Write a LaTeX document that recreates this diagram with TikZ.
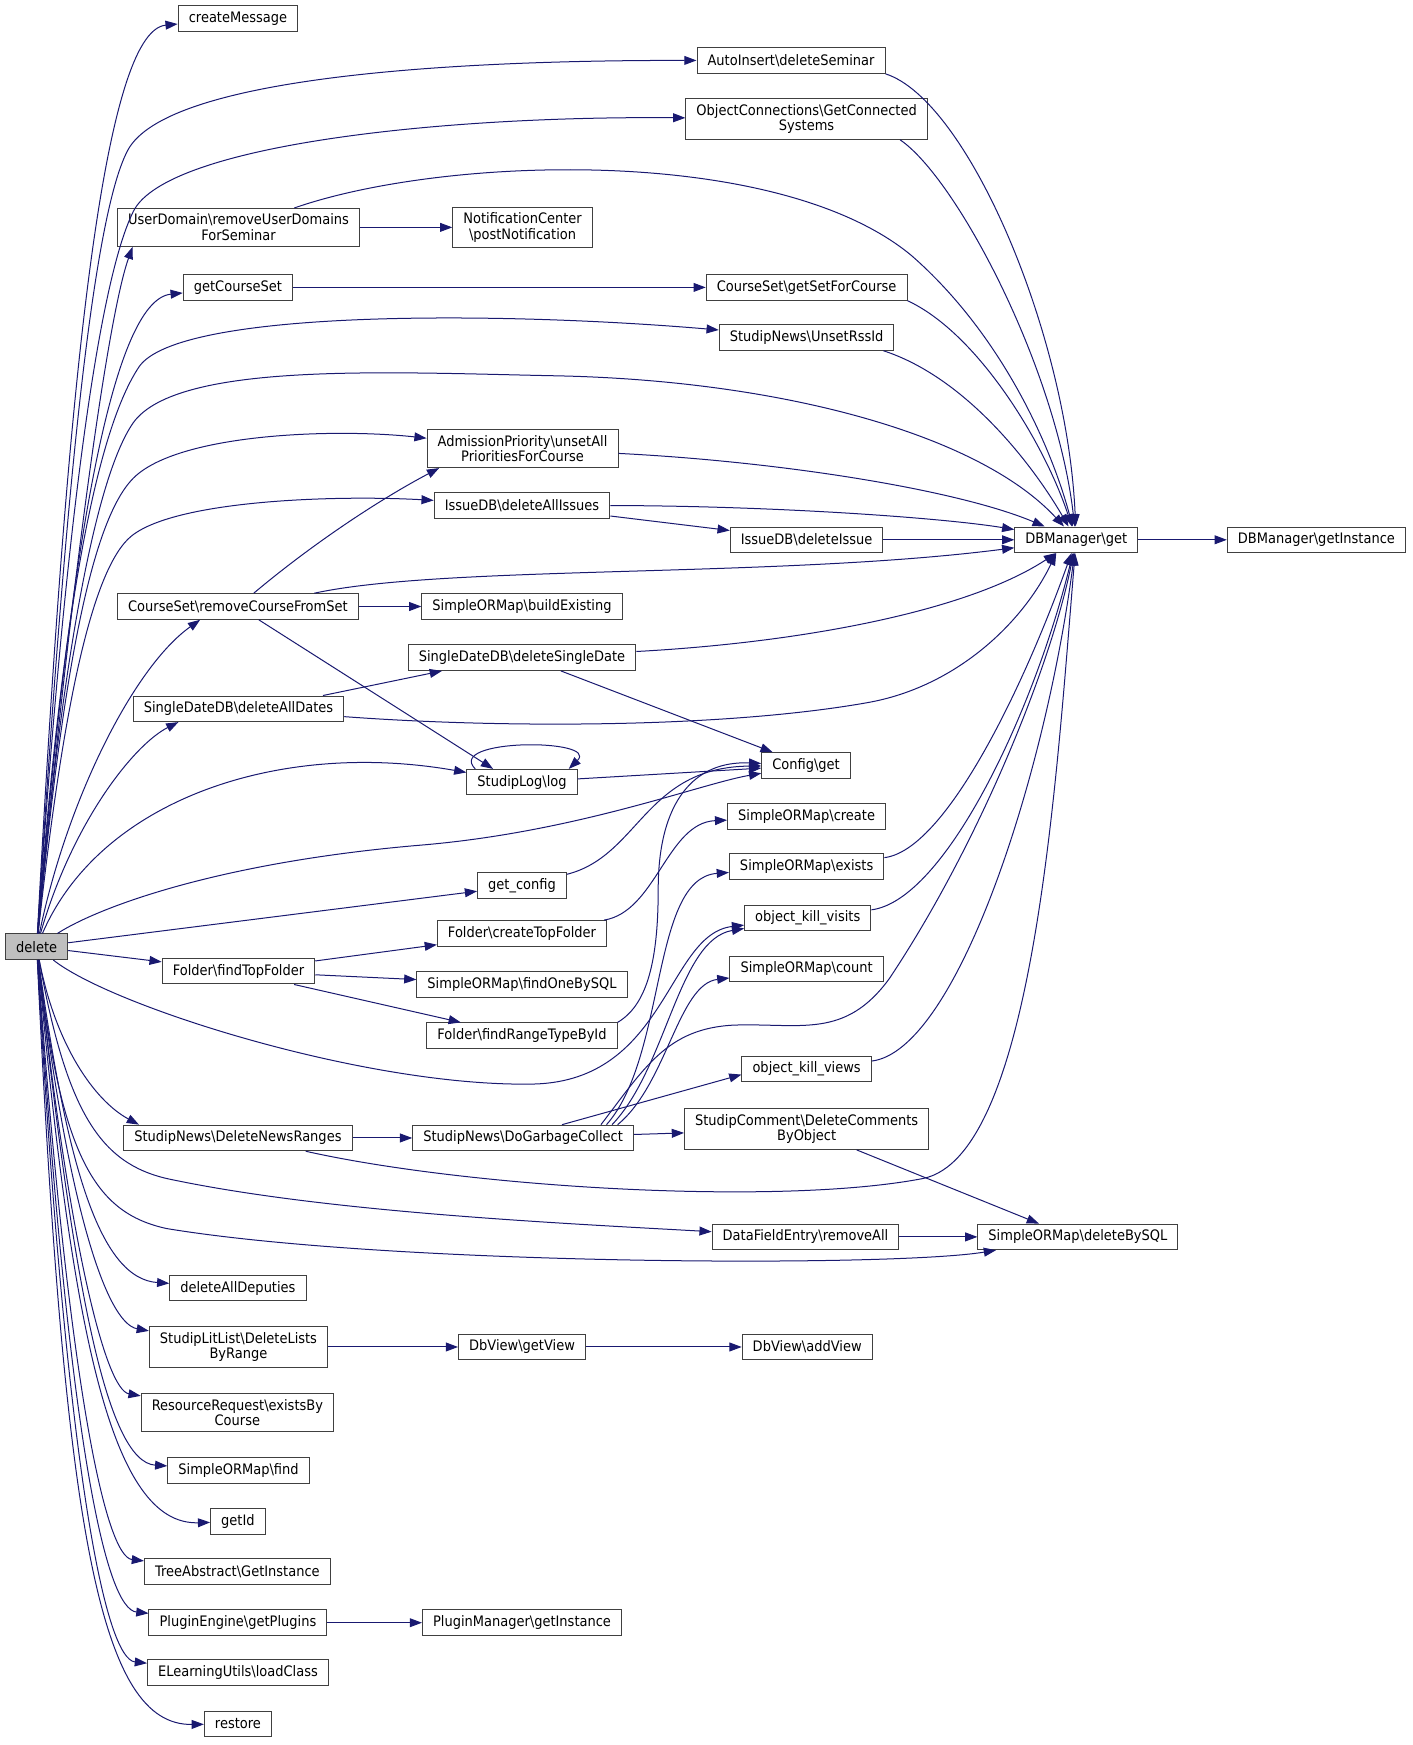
\documentclass[tikz,border=0pt]{standalone}
\usepackage{fontspec}
\newfontfamily\dxfont{DejaVu Sans}[FakeStretch=0.9]
\usetikzlibrary{arrows.meta}
\definecolor{edgeblue}{RGB}{25,25,112}
\definecolor{boxline}{RGB}{64,64,64}
\definecolor{rootfill}{RGB}{191,191,191}
\newcommand{\bsl}{\textbackslash}
\tikzset{fn/.style={rectangle, draw=boxline, line width=0.9pt, fill=white,
    inner xsep=9.5pt, inner ysep=5pt, minimum height=23pt, align=center,
    font=\dxfont\fontsize{13}{14}\selectfont},
  root/.style={fn, fill=rootfill},
  call/.style={draw=edgeblue, line width=0.9pt, -{Triangle[length=11pt,width=8pt]}}}

\begin{document}
\begin{tikzpicture}[x=1pt,y=-1pt]
  \useasboundingbox (0,0) rectangle (1270,1569.5);
  \node[root] (del) at (33,851.5) {delete};
  \foreach \x/\y/\id/\txt in {
    214/16.5/cmsg/createMessage,
    711.5/54.5/autoins/{AutoInsert\bsl deleteSeminar},
    725.5/107/objconn/{ObjectConnections\bsl GetConnected\\Systems},
    214.5/204.5/userdom/{UserDomain\bsl removeUserDomains\\ForSeminar},
    470/204.5/notif/{NotificationCenter\\\bsl postNotification},
    214/258.5/getcs/getCourseSet,
    725.5/258.5/setfor/{CourseSet\bsl getSetForCourse},
    725.5/303.5/unsetrss/{StudipNews\bsl UnsetRssId},
    470/403.5/admprio/{AdmissionPriority\bsl unsetAll\\PrioritiesForCourse},
    469.5/454.5/allissues/{IssueDB\bsl deleteAllIssues},
    725.5/485.5/delissue/{IssueDB\bsl deleteIssue},
    968/485.5/dbget/{DBManager\bsl get},
    1184/485.5/dbinst/{DBManager\bsl getInstance},
    214/545.5/rmcs/{CourseSet\bsl removeCourseFromSet},
    469.5/545.5/buildex/{SimpleORMap\bsl buildExisting},
    469.5/591.5/delsingle/{SingleDateDB\bsl deleteSingleDate},
    214.5/637.5/alldates/{SingleDateDB\bsl deleteAllDates},
    469.5/703.5/slog/{StudipLog\bsl log},
    725/688.5/cfg/{Config\bsl get},
    725.5/734.5/sormcreate/{SimpleORMap\bsl create},
    725.5/779.5/sormexists/{SimpleORMap\bsl exists},
    726.5/825.5/killvisits/{object\_kill\_visits},
    725.5/871.5/sormcount/{SimpleORMap\bsl count},
    469.5/796.5/getcfg/{get\_config},
    469.5/839.5/mktop/{Folder\bsl createTopFolder},
    214.5/873.5/findtop/{Folder\bsl findTopFolder},
    469.5/885.5/findone/{SimpleORMap\bsl findOneBySQL},
    469.5/931.5/rangetype/{Folder\bsl findRangeTypeById},
    725.5/961.5/killviews/{object\_kill\_views},
    725.5/1015.5/delcomm/{StudipComment\bsl DeleteComments\\ByObject},
    214/1023.5/newsranges/{StudipNews\bsl DeleteNewsRanges},
    470.5/1023.5/garbage/{StudipNews\bsl DoGarbageCollect},
    724.5/1112.5/dfremove/{DataFieldEntry\bsl removeAll},
    969.5/1112.5/delsql/{SimpleORMap\bsl deleteBySQL},
    214/1158.5/deputies/deleteAllDeputies,
    214.5/1211.5/litlist/{StudipLitList\bsl DeleteLists\\ByRange},
    469.5/1211.5/getview/{DbView\bsl getView},
    726/1211.5/addview/{DbView\bsl addView},
    213.5/1270.5/resreq/{ResourceRequest\bsl existsBy\\Course},
    214.5/1322.5/sormfind/{SimpleORMap\bsl find},
    214/1368.5/getid/getId,
    213.5/1413.5/treeabs/{TreeAbstract\bsl GetInstance},
    214/1459.5/plugeng/{PluginEngine\bsl getPlugins},
    469.5/1459.5/plugmgr/{PluginManager\bsl getInstance},
    214/1504.5/elearn/{ELearningUtils\bsl loadClass},
    214/1550.5/restore/restore%
  } {
    \node[fn] (\id) at (\x,\y) {\txt};
  }

  % straight calls
  \foreach \u/\v in {
    del/getcfg, del/findtop, userdom/notif, getcs/setfor,
    allissues/delissue, delissue/dbget, dbget/dbinst, rmcs/buildex,
    slog/cfg, findtop/mktop, findtop/findone, newsranges/garbage,
    garbage/delcomm, dfremove/delsql, litlist/getview, getview/addview,
    plugeng/plugmgr%
  }{
    \draw[call] (\u) -- (\v);
  }

  % calls from delete
  \draw[call] (del) .. controls (60,350) and (92,28) .. (cmsg);
  \draw[call] (del) .. controls (55,500) and (80,200) .. (115,135) .. controls (150,70) and (400,54) .. (autoins);
  \draw[call] (del) .. controls (55,520) and (85,260) .. (120,190) .. controls (150,130) and (400,104) .. (objconn);
  \draw[call] (del) .. controls (60,560) and (95,290) .. ([xshift=14pt]userdom.south west);
  \draw[call] (del) .. controls (62,500) and (100,270) .. (getcs);
  \draw[call] (del) .. controls (55,560) and (85,390) .. (125,330) .. controls (160,278) and (450,280) .. (unsetrss);
  \draw[call] (del) .. controls (55,600) and (85,430) .. (120,380) .. controls (160,325) and (350,335) .. (500,338)
    .. controls (700,342) and (880,390) .. (dbget);
  \draw[call] (del) .. controls (55,620) and (80,470) .. (120,430) .. controls (160,390) and (300,385) .. (admprio);
  \draw[call] (del) .. controls (55,650) and (80,520) .. (115,485) .. controls (150,450) and (300,445) .. (allissues);
  \draw[call] (del) .. controls (60,720) and (120,600) .. ([xshift=-34pt]rmcs.south);
  \draw[call] (del) .. controls (65,740) and (120,670) .. ([xshift=-54pt]alldates.south);
  \draw[call] (del) .. controls (90,720) and (250,665) .. (slog);
  \draw[call] (del) .. controls (90,815) and (200,775) .. (380,760) .. controls (520,748) and (630,705) .. (cfg);
  \draw[call] (del) .. controls (100,905) and (330,978) .. (480,975) .. controls (600,972) and (600,840) .. (killvisits);
  \draw[call] (del) .. controls (50,940) and (85,990) .. ([xshift=-89pt]newsranges.north);
  \draw[call] (del) .. controls (60,1000) and (90,1046) .. (150,1060) .. controls (290,1090) and (500,1100) .. (dfremove);
  \draw[call] (del) .. controls (55,1040) and (85,1091) .. (150,1105) .. controls (350,1138) and (800,1140) .. (delsql);
  \draw[call] (del) .. controls (60,1050) and (90,1150) .. (deputies);
  \draw[call] (del) .. controls (60,1080) and (95,1190) .. (litlist);
  \draw[call] (del) .. controls (62,1120) and (95,1250) .. (resreq);
  \draw[call] (del) .. controls (65,1150) and (95,1315) .. (sormfind);
  \draw[call] (del) .. controls (65,1200) and (100,1372) .. (getid);
  \draw[call] (del) .. controls (62,1250) and (95,1400) .. (treeabs);
  \draw[call] (del) .. controls (62,1300) and (95,1447) .. (plugeng);
  \draw[call] (del) .. controls (60,1330) and (95,1492) .. (elearn);
  \draw[call] (del) .. controls (58,1380) and (90,1552) .. (restore);

  % calls into DBManager\get
  \draw[call] (userdom) .. controls (400,140) and (700,130) .. (820,230) .. controls (900,300) and (945,400) .. (dbget);
  \draw[call] (autoins.south east) .. controls (870,90) and (960,300) .. (dbget);
  \draw[call] ([xshift=-25pt]objconn.south east) .. controls (860,160) and (950,330) .. (dbget);
  \draw[call] (setfor.south east) .. controls (880,300) and (940,400) .. (dbget);
  \draw[call] ([xshift=-10pt]unsetrss.south east) .. controls (870,340) and (930,420) .. (dbget);
  \draw[call] (admprio) .. controls (700,415) and (860,440) .. (dbget);
  \draw[call] (allissues) .. controls (700,455) and (850,466) .. (dbget);
  \draw[call] ([xshift=-40pt]rmcs.north east) .. controls (400,508) and (700,520) .. (dbget);
  \draw[call] (alldates) .. controls (450,655) and (650,655) .. (780,632) .. controls (860,618) and (920,560) .. ([xshift=-18pt]dbget.south);
  \draw[call] (delsingle) .. controls (720,578) and (870,550) .. (dbget);
  \draw[call] (sormexists) .. controls (850,765) and (920,620) .. (dbget);
  \draw[call] (killvisits) .. controls (850,810) and (930,640) .. (dbget);
  \draw[call] (killviews) .. controls (860,945) and (940,700) .. (dbget);
  \draw[call] ([xshift=61pt]newsranges.south) .. controls (420,1068) and (700,1085) .. (830,1060)
    .. controls (930,1040) and (950,700) .. (dbget);
  \draw[call] ([xshift=70pt]garbage.north) .. controls (580,960) and (600,925) .. (660,922)
    .. controls (720,920) and (760,935) .. (800,880) .. controls (880,760) and (945,600) .. (dbget);

  % the rest
  \draw[call] (rmcs) .. controls (280,490) and (340,450) .. ([xshift=-75pt]admprio.south);
  \draw[call] (rmcs) -- ([xshift=-26pt]slog.north);
  \draw[call] ([xshift=76pt]alldates.north) -- ([xshift=-72pt]delsingle.south);
  \draw[call] ([xshift=35pt]delsingle.south) -- ([xshift=-30pt]cfg.north);
  \draw[call] ([xshift=8pt]slog.north west) .. controls (400,664) and (540,664) .. ([xshift=-8pt]slog.north east);
  \draw[call] (getcfg) .. controls (575,770) and (580,690) .. (cfg);
  \draw[call] (mktop) .. controls (590,820) and (600,740) .. (sormcreate);
  \draw[call] ([xshift=50pt]findtop.south) -- ([xshift=-55pt]rangetype.north);
  \draw[call] (rangetype.north east) .. controls (580,905) and (592,870) .. (592,800) .. controls (592,720) and (625,684) .. (cfg);
  \draw[call] ([xshift=75pt]garbage.north) .. controls (600,950) and (585,790) .. (sormexists);
  \draw[call] ([xshift=80pt]garbage.north) .. controls (600,960) and (610,845) .. (killvisits);
  \draw[call] ([xshift=85pt]garbage.north) .. controls (600,975) and (610,885) .. (sormcount);
  \draw[call] ([xshift=35pt]garbage.north) -- ([yshift=-5pt]killviews.west);
  \draw[call] ([xshift=45pt]delcomm.south) -- ([xshift=-35pt]delsql.north);
\end{tikzpicture}
\end{document}
